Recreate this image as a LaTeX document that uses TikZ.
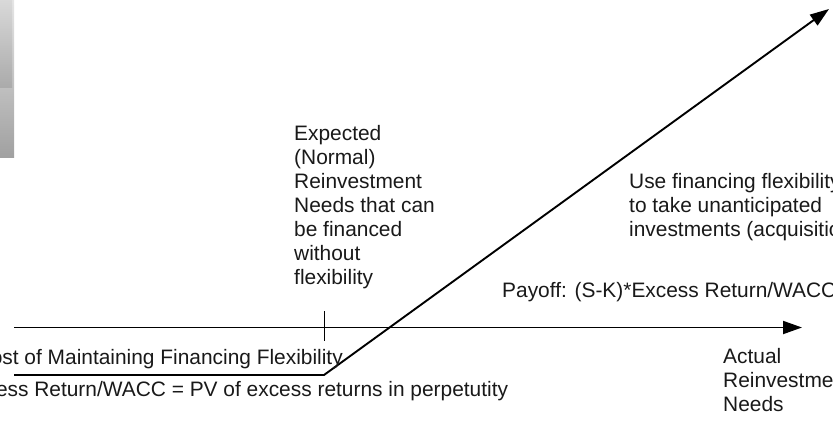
\documentclass[tikz,border=0pt]{standalone}
\usepackage{fontspec}
\setmainfont{Liberation Sans}
\usetikzlibrary{arrows.meta}
\begin{document}
\begin{tikzpicture}[x=1pt,y=-1pt,
  lbl/.style={inner sep=0pt, font=\fontsize{20.9}{24}\selectfont, text=black!90},
  multi/.style={lbl, align=left, anchor=base west},
  ln/.style={line width=1.9pt, black},
  tipped/.style={-{Triangle[length=19pt,width=13pt]}}]
\useasboundingbox (0,0) rectangle (833,431);
\clip (0,0) rectangle (833,431);
% gray panels at top left
\shade[top color=black!10, bottom color=black!37] (0,0) rectangle (14,157);
\shade[top color=black!15, bottom color=black!33] (0,0) rectangle (12,87);
% coordinates
\coordinate (axL) at (14,327.5);
\coordinate (axR) at (802,327.5);
\coordinate (tkT) at (324,311);
\coordinate (tkB) at (324,341);
\coordinate (pL) at (14,375);
\coordinate (pK) at (324,375);
\coordinate (pT) at (829,9);
% axis and tick
\draw[ln, tipped] (axL) -- (axR);
\draw[line width=1pt] (tkT) -- (tkB);
% payoff
\draw[ln, tipped] (pL) -- (pK) -- (pT);
% labels (multi-line nodes anchored at the baseline of their last line)
\node[multi] (exp) at (294,284) {Expected\\(Normal)\\Reinvestment\\Needs that can\\be financed\\without\\flexibility};
\node[multi] (use) at (629,236) {Use financing flexibility\\to take unanticipated\\investments (acquisitions)};
\node[lbl, anchor=base west] (pay) at (502,297) {Payoff: (S-K)*Excess Return/WACC};
\node[lbl, anchor=base east] (cost) at (343,364) {Cost of Maintaining Financing Flexibility};
\node[lbl, anchor=base west] (pv) at (-39,396) {Excess Return/WACC = PV of excess returns in perpetutity};
\node[multi] (act) at (723,411) {Actual\\Reinvestment\\Needs};
\end{tikzpicture}
\end{document}
